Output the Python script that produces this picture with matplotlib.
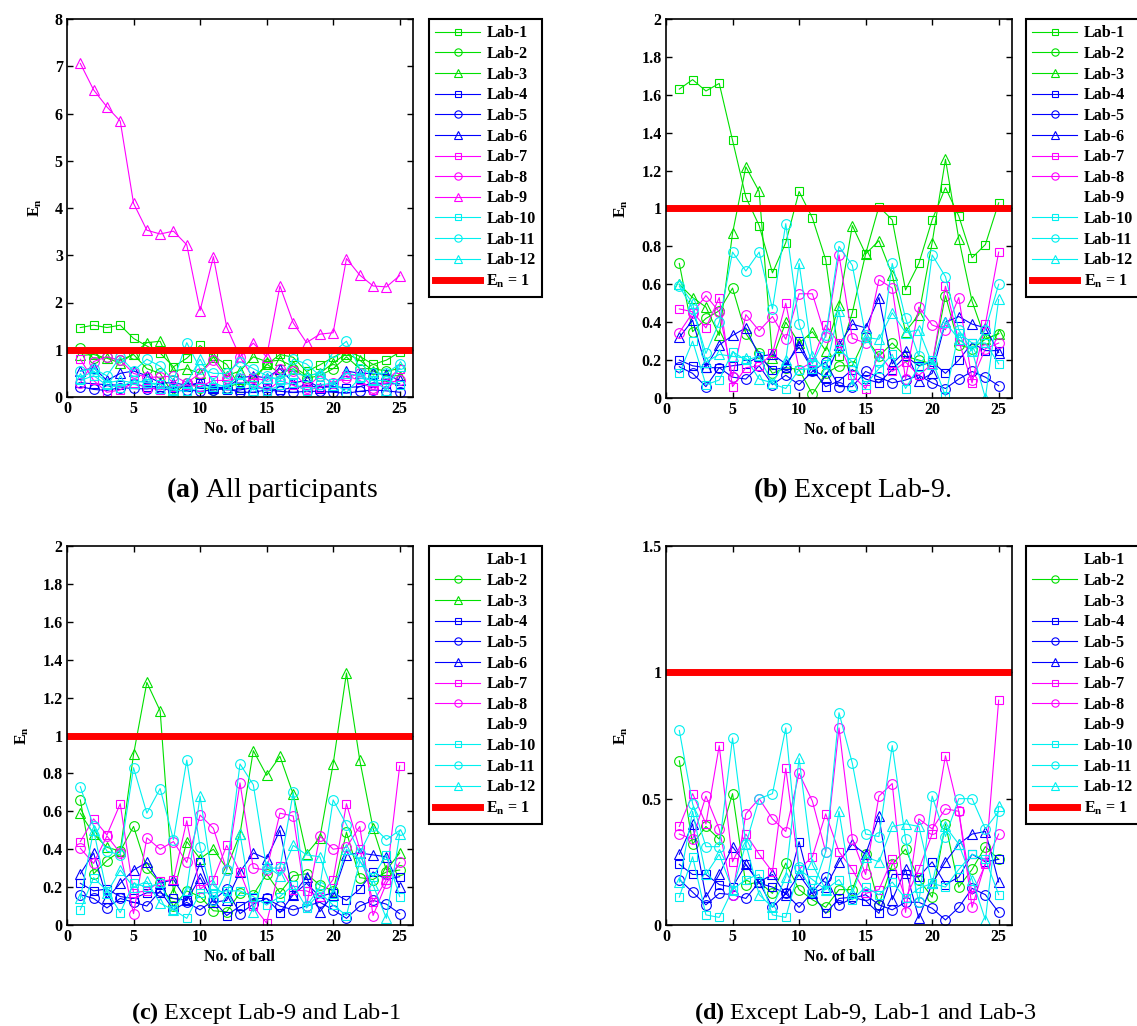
import matplotlib
matplotlib.use('Agg')
import matplotlib.pyplot as plt
from matplotlib.lines import Line2D
from matplotlib.ticker import FuncFormatter, MultipleLocator

plt.rcParams['font.family'] = ['Liberation Serif', 'DejaVu Serif']
plt.rcParams['mathtext.fontset'] = 'custom'
plt.rcParams['mathtext.rm'] = 'Liberation Serif'
plt.rcParams['mathtext.bf'] = 'Liberation Serif:bold'
plt.rcParams['mathtext.it'] = 'Liberation Serif:italic'

balls = list(range(1, 26))
lab_names = ['Lab-1', 'Lab-2', 'Lab-3', 'Lab-4', 'Lab-5', 'Lab-6',
             'Lab-7', 'Lab-8', 'Lab-9', 'Lab-10', 'Lab-11', 'Lab-12']
x_ticks = [0, 5, 10, 15, 20, 25]
captions = ['(a)', '(b)', '(c)', '(d)']
caption_texts = [' All participants', ' Except Lab-9.',
                 ' Except Lab-9 and Lab-1', ' Except Lab-9, Lab-1 and Lab-3']

# ---------------- (a) All participants ----------------
a_lab1 = [1.47, 1.52, 1.47, 1.52, 1.24, 1.08, 0.93, 0.64, 0.82, 1.09, 0.86, 0.69, 0.20,
          0.40, 0.68, 0.90, 0.84, 0.54, 0.68, 0.84, 0.98, 0.86, 0.69, 0.78, 0.95]
a_lab2 = [1.04, 0.82, 0.84, 0.78, 0.90, 0.60, 0.50, 0.05, 0.30, 0.20, 0.15, 0.20, 0.30,
          0.32, 0.70, 0.50, 0.60, 0.40, 0.45, 0.60, 0.85, 0.60, 0.60, 0.55, 0.60]
a_lab3 = [0.88, 0.90, 0.82, 0.72, 0.92, 1.15, 1.18, 0.55, 0.60, 0.50, 0.85, 0.45, 0.55,
          0.85, 0.75, 0.78, 0.65, 0.45, 0.50, 0.72, 0.92, 0.78, 0.55, 0.45, 0.45]
a_lab4 = [0.30, 0.28, 0.26, 0.25, 0.27, 0.22, 0.22, 0.20, 0.22, 0.30, 0.20, 0.15, 0.15,
          0.20, 0.18, 0.15, 0.20, 0.25, 0.20, 0.22, 0.20, 0.22, 0.30, 0.28, 0.28]
a_lab5 = [0.22, 0.16, 0.14, 0.20, 0.18, 0.17, 0.20, 0.12, 0.15, 0.12, 0.15, 0.18, 0.10,
          0.10, 0.15, 0.12, 0.10, 0.12, 0.12, 0.10, 0.08, 0.12, 0.15, 0.13, 0.10]
a_lab6 = [0.55, 0.62, 0.35, 0.50, 0.55, 0.45, 0.30, 0.30, 0.25, 0.30, 0.20, 0.20, 0.40,
          0.45, 0.40, 0.60, 0.30, 0.35, 0.20, 0.25, 0.55, 0.50, 0.50, 0.48, 0.35]
a_lab7 = [0.80, 0.35, 0.10, 0.15, 0.30, 0.20, 0.15, 0.22, 0.25, 0.22, 0.35, 0.35, 0.40,
          0.30, 0.12, 0.35, 0.25, 0.15, 0.20, 0.30, 0.45, 0.35, 0.15, 0.35, 0.60]
a_lab8 = [0.30, 0.75, 0.85, 0.78, 0.50, 0.42, 0.42, 0.45, 0.30, 0.50, 0.78, 0.40, 0.85,
          0.40, 0.35, 0.60, 0.55, 0.20, 0.45, 0.30, 0.40, 0.50, 0.20, 0.30, 0.35]
a_lab9 = [7.06, 6.50, 6.14, 5.84, 4.10, 3.53, 3.45, 3.51, 3.22, 1.83, 2.97, 1.48, 0.85,
          1.14, 0.85, 2.35, 1.57, 1.15, 1.33, 1.36, 2.93, 2.58, 2.35, 2.33, 2.57]
a_lab10 = [0.35, 0.45, 0.25, 0.20, 0.35, 0.30, 0.28, 0.15, 0.12, 0.20, 0.22, 0.25, 0.30,
           0.25, 0.12, 0.25, 0.30, 0.12, 0.25, 0.30, 0.10, 0.40, 0.35, 0.35, 0.25]
a_lab11 = [0.55, 0.60, 0.45, 0.85, 0.55, 0.80, 0.65, 0.35, 1.15, 0.60, 0.50, 0.50, 0.75,
           0.60, 0.45, 0.35, 0.80, 0.70, 0.45, 0.95, 1.18, 0.60, 0.50, 0.50, 0.70]
a_lab12 = [0.40, 0.55, 0.30, 0.35, 0.30, 0.35, 0.20, 0.15, 0.30, 0.80, 0.30, 0.20, 0.50,
           0.15, 0.40, 0.40, 0.50, 0.45, 0.50, 0.25, 0.50, 0.45, 0.35, 0.15, 0.65]

# ---------------- (b) Except Lab-9 ----------------
b_lab1 = [1.63, 1.68, 1.62, 1.66, 1.36, 1.06, 0.91, 0.66, 0.82, 1.09, 0.95, 0.73, 0.22,
          0.45, 0.76, 1.01, 0.94, 0.57, 0.71, 0.94, 1.11, 0.96, 0.74, 0.81, 1.03]
b_lab2 = [0.71, 0.35, 0.42, 0.46, 0.58, 0.34, 0.24, 0.13, 0.16, 0.15, 0.02, 0.13, 0.17,
          0.17, 0.32, 0.22, 0.29, 0.22, 0.20, 0.18, 0.54, 0.28, 0.26, 0.31, 0.34]
b_lab3 = [0.60, 0.53, 0.48, 0.33, 0.87, 1.22, 1.09, 0.21, 0.40, 0.29, 0.35, 0.25, 0.49,
          0.91, 0.76, 0.83, 0.65, 0.35, 0.44, 0.82, 1.26, 0.84, 0.51, 0.31, 0.34]
b_lab4 = [0.20, 0.17, 0.16, 0.16, 0.17, 0.18, 0.22, 0.15, 0.16, 0.30, 0.15, 0.06, 0.09,
          0.15, 0.10, 0.08, 0.15, 0.22, 0.17, 0.19, 0.13, 0.20, 0.29, 0.25, 0.25]
b_lab5 = [0.165, 0.13, 0.06, 0.16, 0.11, 0.10, 0.17, 0.07, 0.12, 0.07, 0.14, 0.19, 0.06,
          0.06, 0.14, 0.11, 0.08, 0.095, 0.12, 0.08, 0.05, 0.10, 0.14, 0.11, 0.065]
b_lab6 = [0.32, 0.41, 0.165, 0.28, 0.33, 0.37, 0.22, 0.23, 0.18, 0.27, 0.15, 0.11, 0.28,
          0.39, 0.37, 0.53, 0.18, 0.25, 0.09, 0.13, 0.40, 0.43, 0.39, 0.37, 0.24]
b_lab7 = [0.47, 0.455, 0.37, 0.53, 0.06, 0.16, 0.17, 0.235, 0.50, 0.15, 0.19, 0.385, 0.29,
          0.12, 0.05, 0.235, 0.14, 0.19, 0.12, 0.18, 0.59, 0.30, 0.08, 0.39, 0.77]
b_lab8 = [0.345, 0.45, 0.54, 0.455, 0.11, 0.44, 0.355, 0.43, 0.31, 0.55, 0.55, 0.32, 0.755,
          0.315, 0.29, 0.625, 0.58, 0.10, 0.48, 0.385, 0.36, 0.53, 0.095, 0.26, 0.29]
b_lab10 = [0.13, 0.30, 0.07, 0.095, 0.245, 0.20, 0.22, 0.075, 0.05, 0.15, 0.155, 0.18, 0.26,
           0.19, 0.07, 0.155, 0.23, 0.05, 0.165, 0.20, 0.01, 0.345, 0.29, 0.29, 0.18]
b_lab11 = [0.59, 0.47, 0.235, 0.40, 0.77, 0.67, 0.77, 0.47, 0.92, 0.39, 0.18, 0.33, 0.80,
           0.70, 0.33, 0.19, 0.71, 0.42, 0.22, 0.755, 0.64, 0.36, 0.25, 0.36, 0.60]
b_lab12 = [0.60, 0.50, 0.19, 0.23, 0.22, 0.21, 0.10, 0.08, 0.20, 0.71, 0.22, 0.15, 0.46,
           0.07, 0.32, 0.31, 0.45, 0.345, 0.36, 0.18, 0.40, 0.31, 0.25, 0.00, 0.52]

# ---------------- (c) Except Lab-9 and Lab-1 ----------------
c_lab2 = [0.66, 0.27, 0.34, 0.39, 0.52, 0.30, 0.22, 0.10, 0.18, 0.15, 0.075, 0.07, 0.17,
          0.16, 0.27, 0.17, 0.26, 0.27, 0.21, 0.18, 0.49, 0.25, 0.24, 0.28, 0.29]
c_lab3 = [0.59, 0.48, 0.41, 0.39, 0.90, 1.28, 1.13, 0.17, 0.44, 0.35, 0.40, 0.30, 0.48,
          0.92, 0.79, 0.89, 0.69, 0.375, 0.46, 0.85, 1.33, 0.87, 0.51, 0.29, 0.38]
c_lab4 = [0.22, 0.18, 0.19, 0.15, 0.14, 0.17, 0.17, 0.14, 0.13, 0.33, 0.13, 0.05, 0.10,
          0.14, 0.14, 0.065, 0.16, 0.22, 0.15, 0.17, 0.13, 0.19, 0.28, 0.24, 0.255]
c_lab5 = [0.16, 0.14, 0.09, 0.14, 0.12, 0.10, 0.18, 0.08, 0.12, 0.08, 0.13, 0.19, 0.06,
          0.11, 0.14, 0.10, 0.08, 0.10, 0.12, 0.08, 0.035, 0.10, 0.13, 0.11, 0.06]
c_lab6 = [0.27, 0.38, 0.14, 0.22, 0.29, 0.33, 0.22, 0.24, 0.13, 0.25, 0.12, 0.13, 0.28,
          0.38, 0.35, 0.50, 0.16, 0.255, 0.07, 0.16, 0.37, 0.38, 0.37, 0.36, 0.20]
c_lab7 = [0.44, 0.56, 0.475, 0.64, 0.17, 0.18, 0.23, 0.24, 0.55, 0.19, 0.24, 0.42, 0.28,
          0.10, 0.01, 0.31, 0.185, 0.18, 0.15, 0.24, 0.64, 0.40, 0.12, 0.24, 0.84]
c_lab8 = [0.405, 0.325, 0.47, 0.38, 0.06, 0.46, 0.40, 0.44, 0.33, 0.58, 0.51, 0.29, 0.75,
          0.30, 0.29, 0.59, 0.575, 0.10, 0.47, 0.40, 0.41, 0.52, 0.05, 0.22, 0.33]
c_lab10 = [0.08, 0.25, 0.18, 0.065, 0.22, 0.20, 0.22, 0.08, 0.035, 0.17, 0.17, 0.18, 0.18,
           0.15, 0.105, 0.15, 0.21, 0.09, 0.17, 0.105, 0.05, 0.335, 0.255, 0.37, 0.15]
c_lab11 = [0.73, 0.52, 0.39, 0.37, 0.83, 0.59, 0.72, 0.45, 0.87, 0.41, 0.13, 0.29, 0.85,
           0.74, 0.30, 0.30, 0.70, 0.10, 0.20, 0.66, 0.53, 0.38, 0.52, 0.45, 0.50]
c_lab12 = [0.14, 0.50, 0.17, 0.29, 0.20, 0.23, 0.115, 0.08, 0.185, 0.68, 0.21, 0.15, 0.48,
           0.07, 0.31, 0.26, 0.42, 0.37, 0.36, 0.17, 0.40, 0.34, 0.21, 0.035, 0.48]

# ---------------- (d) Except Lab-9, Lab-1 and Lab-3 ----------------
d_lab2 = [0.65, 0.32, 0.39, 0.34, 0.52, 0.16, 0.17, 0.125, 0.245, 0.14, 0.10, 0.07, 0.14,
          0.14, 0.28, 0.08, 0.24, 0.30, 0.18, 0.11, 0.40, 0.15, 0.22, 0.31, 0.26]
d_lab4 = [0.24, 0.20, 0.20, 0.16, 0.15, 0.24, 0.165, 0.15, 0.125, 0.33, 0.125, 0.046, 0.105,
          0.11, 0.096, 0.046, 0.20, 0.20, 0.19, 0.25, 0.16, 0.19, 0.28, 0.25, 0.26]
d_lab5 = [0.18, 0.13, 0.08, 0.125, 0.12, 0.105, 0.17, 0.07, 0.125, 0.07, 0.13, 0.19, 0.08,
          0.105, 0.12, 0.08, 0.06, 0.09, 0.09, 0.066, 0.02, 0.07, 0.145, 0.12, 0.05]
d_lab6 = [0.28, 0.40, 0.11, 0.20, 0.31, 0.24, 0.17, 0.20, 0.12, 0.20, 0.125, 0.15, 0.25,
          0.32, 0.28, 0.43, 0.10, 0.22, 0.026, 0.165, 0.25, 0.32, 0.36, 0.37, 0.17]
d_lab7 = [0.39, 0.52, 0.40, 0.71, 0.25, 0.36, 0.28, 0.21, 0.62, 0.22, 0.27, 0.44, 0.29,
          0.22, 0.125, 0.14, 0.26, 0.105, 0.22, 0.36, 0.67, 0.45, 0.12, 0.24, 0.89]
d_lab8 = [0.36, 0.34, 0.51, 0.38, 0.12, 0.44, 0.50, 0.42, 0.37, 0.60, 0.49, 0.29, 0.78,
          0.34, 0.20, 0.51, 0.56, 0.05, 0.42, 0.38, 0.46, 0.45, 0.07, 0.245, 0.36]
d_lab10 = [0.11, 0.27, 0.04, 0.03, 0.14, 0.18, 0.20, 0.04, 0.03, 0.22, 0.18, 0.14, 0.18,
           0.10, 0.15, 0.12, 0.17, 0.105, 0.145, 0.165, 0.15, 0.22, 0.28, 0.26, 0.12]
d_lab11 = [0.77, 0.48, 0.31, 0.31, 0.74, 0.32, 0.50, 0.52, 0.78, 0.23, 0.13, 0.29, 0.84,
           0.64, 0.36, 0.35, 0.71, 0.34, 0.09, 0.51, 0.35, 0.50, 0.50, 0.38, 0.45]
d_lab12 = [0.17, 0.45, 0.20, 0.28, 0.14, 0.32, 0.12, 0.07, 0.19, 0.66, 0.24, 0.14, 0.45,
           0.125, 0.27, 0.25, 0.39, 0.40, 0.39, 0.165, 0.39, 0.32, 0.18, 0.02, 0.47]

GREEN, BLUE, MAG, CYAN = '#00e000', '#0000ff', '#ff00ff', '#00f0f0'
lab_colors = [GREEN, GREEN, GREEN, BLUE, BLUE, BLUE, MAG, MAG, MAG, CYAN, CYAN, CYAN]
lab_markers = ['s', 'o', '^'] * 4
marker_sizes = {'s': 5.5, 'o': 7.0, '^': 7.5}

panels = [
    [a_lab1, a_lab2, a_lab3, a_lab4, a_lab5, a_lab6, a_lab7, a_lab8, a_lab9,
     a_lab10, a_lab11, a_lab12],
    [b_lab1, b_lab2, b_lab3, b_lab4, b_lab5, b_lab6, b_lab7, b_lab8, None,
     b_lab10, b_lab11, b_lab12],
    [None, c_lab2, c_lab3, c_lab4, c_lab5, c_lab6, c_lab7, c_lab8, None,
     c_lab10, c_lab11, c_lab12],
    [None, d_lab2, None, d_lab4, d_lab5, d_lab6, d_lab7, d_lab8, None,
     d_lab10, d_lab11, d_lab12],
]
y_limits = [(0, 8), (0, 2), (0, 2), (0, 1.5)]
y_steps = [1, 0.2, 0.2, 0.5]

W, H = 1137, 1026
fig = plt.figure(figsize=(W / 100, H / 100), dpi=100)

ax_px = [(67, 19, 413, 397), (666, 19, 1012, 398), (67, 546, 413, 925), (666, 546, 1012, 925)]
leg_px = [(429, 19), (1026, 19), (429, 546), (1026, 546)]
cap_px = [(272, 490), (852, 490), (266, 1013), (866, 1013)]
cap_sizes = [20, 20, 17.5, 17.5]

FS = 11.5
for i in range(4):
    l, t, r, b = ax_px[i]
    ax = fig.add_axes([l / W, 1 - b / H, (r - l) / W, (b - t) / H])
    handles = []
    for k in range(12):
        vals = panels[i][k]
        if vals is None:
            handles.append(Line2D([], [], linestyle='none', marker=None))
            continue
        m = lab_markers[k]
        h, = ax.plot(balls, vals, color=lab_colors[k], marker=m, markersize=marker_sizes[m],
                     markerfacecolor='none', markeredgewidth=0.8, linewidth=0.8)
        handles.append(h)
    red = ax.axhline(1, color='#ff0000', linewidth=5)
    handles.append(red)
    labels = lab_names + [r'$\mathbf{E_n}$ = 1']

    ax.set_xlim(0, 26)
    ax.set_ylim(*y_limits[i])
    ax.set_xticks(x_ticks)
    ax.yaxis.set_major_locator(MultipleLocator(y_steps[i]))
    ax.yaxis.set_major_formatter(FuncFormatter(lambda v, p: ('%.1f' % v).rstrip('0').rstrip('.')))
    ax.tick_params(direction='in', top=True, right=True, length=4, width=1.0,
                   labelsize=FS, pad=3)
    for lab in ax.get_xticklabels() + ax.get_yticklabels():
        lab.set_fontweight('bold')
    for sp in ax.spines.values():
        sp.set_linewidth(1.2)
    ax.set_xlabel('No. of ball', fontsize=FS, fontweight='bold', labelpad=3)
    ax.set_ylabel(r'$\mathbf{E_n}$', fontsize=FS, labelpad=8)

    lx, ly = leg_px[i]
    leg = ax.legend(handles, labels, loc='upper left', bbox_to_anchor=(lx / W, 1 - ly / H),
                    bbox_transform=fig.transFigure, borderaxespad=0, frameon=True,
                    fancybox=False, edgecolor='black', framealpha=1,
                    prop={'weight': 'bold', 'size': FS}, handlelength=2.8,
                    handletextpad=0.4, labelspacing=0.29, borderpad=0.4, markerscale=0.75)
    leg.get_frame().set_linewidth(1.5)

    cx, cy = cap_px[i]
    fig.text(cx / W, 1 - cy / H, r'$\mathbf{' + captions[i] + '}$' + caption_texts[i],
             fontsize=cap_sizes[i], ha='center', va='center')

fig.savefig('out.png', dpi=100)
